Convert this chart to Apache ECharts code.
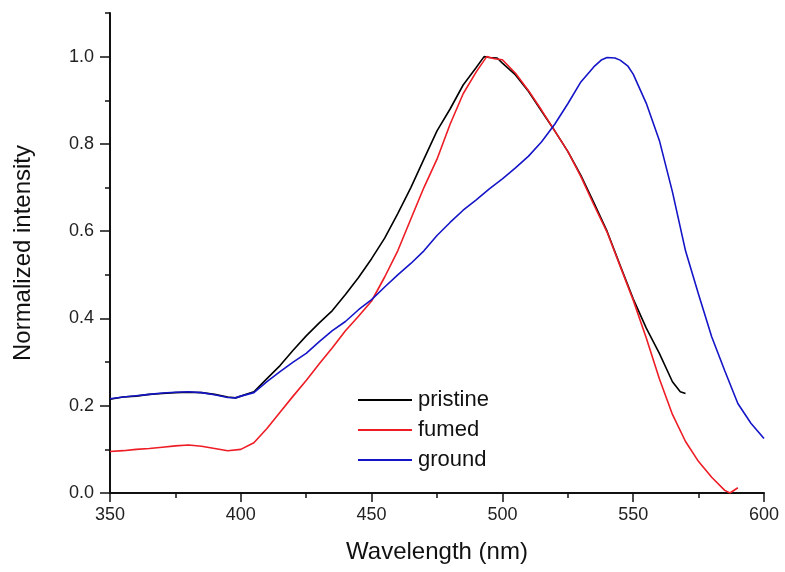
<!DOCTYPE html>
<html>
<head>
<meta charset="utf-8">
<script src="https://cdn.jsdelivr.net/npm/echarts@6/dist/echarts.min.js"></script>
<style>
html,body{margin:0;padding:0;background:#fff;}
#chart{width:785px;height:572px;}
</style>
</head>
<body>
<div id="chart"></div>
<script>
// Data (wavelength nm, normalized intensity)
var pristineX = [350,355,360,365,370,375,380,385,390,395,398,400,405,410,415,420,425,430,435,440,445,450,455,460,465,470,475,480,485,490,493,495,498,500,505,510,515,520,525,530,535,540,545,550,555,560,565,568,570];
var pristineY = [0.215,0.220,0.222,0.226,0.228,0.230,0.231,0.230,0.226,0.220,0.218,0.222,0.232,0.262,0.292,0.327,0.360,0.390,0.418,0.455,0.494,0.537,0.584,0.640,0.700,0.765,0.830,0.880,0.935,0.975,1.000,0.998,0.997,0.985,0.958,0.920,0.875,0.830,0.783,0.728,0.665,0.600,0.522,0.445,0.378,0.320,0.255,0.232,0.228];

var fumedX = [350,355,360,365,370,375,380,385,390,395,400,405,410,415,420,425,430,435,440,445,450,455,460,465,470,475,480,485,490,494,497,500,505,510,515,520,525,530,535,540,545,550,555,560,565,570,575,580,585,587,590];
var fumedY = [0.095,0.097,0.100,0.102,0.105,0.108,0.110,0.107,0.102,0.097,0.100,0.115,0.148,0.185,0.222,0.258,0.296,0.333,0.372,0.405,0.440,0.495,0.555,0.628,0.700,0.765,0.845,0.915,0.965,1.000,0.995,0.993,0.962,0.922,0.877,0.830,0.783,0.725,0.660,0.598,0.520,0.442,0.355,0.262,0.180,0.118,0.072,0.036,0.006,0.000,0.012];

var groundX = [350,355,360,365,370,375,380,385,390,395,398,400,405,410,415,420,425,430,435,440,445,450,455,460,465,470,475,480,485,490,495,500,505,510,515,520,525,530,535,538,540,543,545,548,550,555,560,565,570,575,580,585,590,595,600];
var groundY = [0.216,0.220,0.223,0.226,0.229,0.231,0.232,0.230,0.225,0.219,0.218,0.222,0.230,0.255,0.278,0.300,0.320,0.347,0.372,0.393,0.420,0.443,0.472,0.500,0.526,0.555,0.590,0.620,0.648,0.672,0.697,0.720,0.745,0.772,0.805,0.845,0.892,0.942,0.977,0.993,0.998,0.997,0.992,0.978,0.960,0.893,0.808,0.690,0.555,0.455,0.358,0.280,0.205,0.160,0.125];

var seriesNames = ['pristine','fumed','ground'];
var seriesColors = ['#000000','#ee1c24','#1515c8'];
var yTickValues = [0,0.2,0.4,0.6,0.8,1.0];

function pairs(xs, ys){ var out=[]; for(var i=0;i<xs.length;i++){ out.push([xs[i], ys[i]]); } return out; }
var allData = [pairs(pristineX,pristineY), pairs(fumedX,fumedY), pairs(groundX,groundY)];

var FONT = '"Liberation Sans", Arial, sans-serif';
var chart = echarts.init(document.getElementById('chart'), null, {renderer:'canvas'});
var axisColor = '#111';

var option = {
  animation: false,
  backgroundColor: '#ffffff',
  grid: {left:110, right:21, top:13, bottom:79, containLabel:false, outerBoundsMode:'none'},
  legend: {
    data: seriesNames,
    orient: 'vertical',
    left: 358, top: 389, padding: 0,
    icon: 'rect',
    itemWidth: 54, itemHeight: 2, itemGap: 8,
    textStyle: {fontFamily: FONT, fontSize: 22, color: '#111', lineHeight: 22, padding:[0,0,0,1]}
  },
  xAxis: [
    {
      type:'value', min:350, max:600, interval:50, position:'bottom',
      name:'Wavelength (nm)', nameLocation:'middle', nameGap:47,
      nameTextStyle:{fontFamily:FONT, fontSize:24, color:'#111'},
      axisLine:{show:true, onZero:false, lineStyle:{color:axisColor, width:2}},
      axisTick:{show:true, inside:false, length:9, lineStyle:{color:axisColor, width:1.5}},
      axisLabel:{show:true, margin:13, fontFamily:FONT, fontSize:18, color:'#222'},
      splitLine:{show:false}
    },
    {
      type:'value', min:350, max:600, interval:25, position:'bottom',
      axisLine:{show:false},
      axisTick:{show:true, inside:false, length:5, lineStyle:{color:axisColor, width:1.5}},
      axisLabel:{show:false}, splitLine:{show:false}
    }
  ],
  yAxis: [
    {
      type:'value', min:0, max:1.1, interval:0.2, position:'left',
      name:'Normalized intensity', nameLocation:'middle', nameGap:75,
      nameTextStyle:{fontFamily:FONT, fontSize:24, color:'#111'},
      axisLine:{show:true, onZero:false, lineStyle:{color:axisColor, width:2}},
      axisTick:{show:true, inside:false, length:10, customValues: yTickValues, lineStyle:{color:axisColor, width:1.5}},
      axisLabel:{show:true, margin:16, fontFamily:FONT, fontSize:18, color:'#222', customValues: yTickValues,
        formatter:function(v){ return v.toFixed(1); }},
      splitLine:{show:false}
    },
    {
      type:'value', min:0, max:1.1, interval:0.1, position:'left',
      axisLine:{show:false},
      axisTick:{show:true, inside:false, length:5, lineStyle:{color:axisColor, width:1.5}},
      axisLabel:{show:false}, splitLine:{show:false}
    }
  ],
  series: seriesNames.map(function(n, i){
    return {
      name:n, type:'line', xAxisIndex:0, yAxisIndex:0,
      data: allData[i], showSymbol:false, symbol:'none', smooth:false,
      lineStyle:{color:seriesColors[i], width:1.6},
      itemStyle:{color:seriesColors[i]}
    };
  })
};
chart.setOption(option);
</script>
</body>
</html>
